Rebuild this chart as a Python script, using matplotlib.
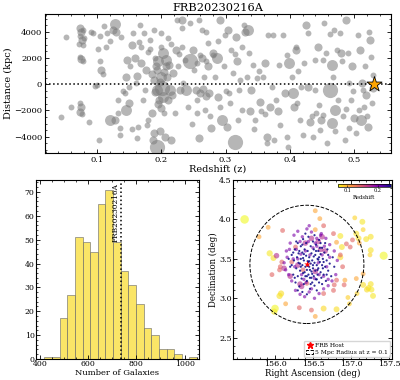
import numpy as np
import matplotlib
matplotlib.use("Agg")
import matplotlib.pyplot as plt
from matplotlib.patches import Circle
from matplotlib.lines import Line2D
from matplotlib.ticker import AutoMinorLocator

plt.rcParams.update({
    "font.family": "serif",
    "font.serif": ["DejaVu Serif"],
    "xtick.direction": "in", "ytick.direction": "in",
    "xtick.top": True, "ytick.right": True,
    "xtick.minor.visible": True, "ytick.minor.visible": True,
    "xtick.major.size": 3, "ytick.major.size": 3,
    "xtick.minor.size": 1.5, "ytick.minor.size": 1.5,
    "xtick.major.width": 0.6, "ytick.major.width": 0.6,
    "xtick.minor.width": 0.5, "ytick.minor.width": 0.5,
    "axes.linewidth": 0.8,
})

# ---------------- top panel data (redshift, transverse distance kpc) ----------------
z_small = [0.044,0.051,0.059,0.073,0.072,0.078,0.073,0.078,0.074,0.076,0.078,0.080,0.087,0.090,0.094,0.100,0.097,0.103,0.105,0.102,
           0.111,0.114,0.115,0.105,0.110,0.132,0.132,0.136,0.138,0.141,0.143,0.149,0.152,0.156,0.161,0.163,0.162,0.167,0.169,0.171,
           0.173,0.175,0.180,0.180,0.182,0.188,0.190,0.199,0.199,0.204,0.211,0.221,0.224,0.226,0.233,0.232,0.234,0.237,0.245,0.251,
           0.255,0.256,0.259,0.263,0.266,0.268,0.270,0.272,0.276,0.283,0.292,0.297,0.299,0.306,0.307,0.309,0.312,0.320,0.321,0.322,
           0.325,0.326,0.329,0.333,0.337,0.343,0.346,0.349,0.356,0.359,0.365,0.366,0.372,0.374,0.375,0.379,0.384,0.389,0.395,0.398,
           0.403,0.409,0.413,0.416,0.418,0.421,0.422,0.428,0.434,0.436,0.439,0.440,0.441,0.447,0.451,0.452,0.454,0.457,0.458,0.467,
           0.469,0.474,0.475,0.478,0.482,0.483,0.486,0.491,0.492,0.493,0.496,0.503,0.506,0.514,0.515,0.517,0.524,0.526,0.528,0.529,
           0.260,0.270,0.280,0.255,0.120,0.135,0.155,0.165,0.178,0.183,0.215,0.228,0.242,0.248,0.288,0.300,0.315,0.345,0.352,0.362,
           0.385,0.395,0.412,0.445,0.462,0.470,0.488,0.498,0.508,0.520]
d_small = [-2500,3600,-1750,3650,3100,3000,2100,1800,-1400,-2300,4100,3500,-2900,3950,3900,-50,-100,-4250,3650,2700,
           4450,2870,3890,1730,790,-1190,-2200,-3300,3630,-530,-700,-180,1350,3890,80,-3230,-4110,4520,2870,-1190,
           3890,-430,2490,-2720,3380,4140,1980,2870,3890,-2200,3500,-2200,4900,1350,4270,2870,80,1850,4650,1090,
           -1190,-2200,4900,4140,580,-1960,4010,3120,-2460,580,-1700,1350,3760,-690,-1450,2620,840,-2720,-430,330,
           2870,-1960,4520,580,2360,1470,-2720,460,-2080,580,-4500,3760,-180,3760,-4240,-1190,1470,3760,-3990,-4750,
           580,2870,970,-2720,-180,-3860,1600,3890,-2460,-3990,1850,-430,-2200,-3480,1850,-2330,4650,2360,-4500,580,
           4140,2620,-1190,3890,1730,-2460,-4240,2360,80,-3350,-1190,-3730,3760,-430,-1700,1350,4010,2110,-1450,710,
           2200,1800,2200,1600,3300,-3900,-3400,3200,-3100,2700,3050,2300,-1700,-3000,3300,-500,2300,-3400,1000,-2300,
           -3100,2200,-1400,-1600,3800,-3600,-1900,-500,-2000,-2400]

z_med = [0.074,0.075,0.076,0.075,0.075,0.074,0.106,0.125,0.130,0.128,0.146,0.145,0.150,0.154,0.159,0.162,0.169,0.177,0.185,0.187,
         0.188,0.189,0.194,0.197,0.198,0.206,0.207,0.209,0.215,0.219,0.223,0.229,0.232,0.250,0.254,0.259,0.264,0.273,0.275,0.277,
         0.281,0.289,0.291,0.302,0.304,0.317,0.318,0.330,0.338,0.340,0.353,0.361,0.364,0.369,0.382,0.392,0.407,0.410,0.426,0.429,
         0.431,0.444,0.449,0.480,0.488,0.497,0.500,0.509,0.513,0.519,0.522,0.525,0.530,
         0.185,0.190,0.195,0.198,0.205,0.210,0.212,0.216,0.192,0.200,0.260,0.265,0.270]
d_med = [4250,3950,3350,1900,-1700,-2100,1090,4140,4000,-2720,1850,580,-1450,3000,2030,640,1600,1090,-2200,-4240,
         -3730,330,1090,-1190,-3600,-3990,1350,580,-4240,840,2620,-430,4900,2620,-430,-4110,1980,1350,-690,-3350,
         2360,-940,4900,-3230,4140,3630,1730,4010,-2080,-430,-1320,1600,-3990,-1700,-2080,-690,-1700,2620,4520,-180,
         -2850,2870,-2720,2360,4900,1350,-2590,2620,80,-810,-3230,3380,-300,
         800,-600,-1500,200,900,-1200,1500,-800,1400,-1800,-700,-400,-900]

z_large = [0.120,0.128,0.145,0.193,0.195,0.200,0.202,0.203,0.208,0.213,0.239,0.286,0.295,0.335,0.399,0.405,0.465,0.466,0.471,0.511]
d_large = [-2720,4600,-1960,-430,1730,580,2360,-940,1850,-430,-430,1980,-2720,4140,1600,-690,1470,-2970,-1960,-2720]

z_xl = [0.193,0.201,0.245,0.314,0.462]
d_xl = [-4750,-300,1730,-4370,-430]

frb_z = 0.531
frb_d = 0

# ---------------- histogram data ----------------
bin_start = 418
bin_width = 31.7
hist_counts = [1, 1, 17, 27, 51, 49, 45, 65, 71, 49, 37, 31, 23, 13, 10, 4, 4, 2, 0, 1]
frb_count = 734

# ---------------- sky panel data (RA, Dec, redshift, size) ----------------
ra_navy = [156.20,156.22,156.24,156.25,156.26,156.27,156.28,156.29,156.30,156.30,156.31,156.32,156.32,156.33,156.34,156.34,156.35,156.36,156.36,156.37,
           156.37,156.38,156.38,156.39,156.40,156.40,156.41,156.41,156.42,156.42,156.43,156.43,156.44,156.44,156.45,156.45,156.46,156.46,156.47,156.47,
           156.48,156.48,156.49,156.49,156.50,156.50,156.51,156.51,156.52,156.52,156.53,156.53,156.54,156.54,156.55,156.56,156.56,156.57,156.57,156.58,
           156.58,156.59,156.60,156.60,156.61,156.62,156.62,156.63,156.64,156.65,156.66,156.67,156.68,156.69,156.70,156.72,156.74,156.76,156.36,156.42,
           156.55,156.28,156.22,156.18,156.40,156.52,156.60,156.66,156.70,156.78,156.30,156.46,156.44,156.50,156.38,156.56,156.34,156.58,156.42,156.48,
           156.26,156.64,156.24,156.68,156.36,156.54,156.47,156.62,156.33,156.39,156.45,156.51,156.57,156.63,156.43,156.49,156.37,156.55,156.31,156.59]
dec_navy = [3.40,3.55,3.30,3.48,3.62,3.20,3.38,3.52,3.70,3.28,3.45,3.60,3.15,3.35,3.50,3.66,3.25,3.42,3.58,3.75,
            3.32,3.48,3.18,3.62,3.40,3.28,3.54,3.70,3.36,3.22,3.47,3.60,3.30,3.78,3.40,3.52,3.12,3.26,3.66,3.44,
            3.34,3.57,3.20,3.48,3.72,3.38,3.28,3.62,3.45,3.16,3.55,3.35,3.68,3.24,3.42,3.50,3.30,3.60,3.38,3.20,
            3.74,3.46,3.33,3.56,3.26,3.64,3.42,3.50,3.30,3.58,3.40,3.22,3.48,3.62,3.35,3.44,3.28,3.52,3.08,3.05,
            3.10,3.72,3.42,3.50,3.82,3.80,3.70,3.70,3.55,3.40,3.10,3.36,3.46,3.42,3.56,3.36,3.40,3.52,3.28,3.26,
            3.26,3.46,3.58,3.30,3.68,3.60,3.18,3.18,3.44,3.33,3.47,3.53,3.49,3.38,3.41,3.31,3.51,3.24,3.57,3.64]

ra_purple = [156.15,156.18,156.20,156.22,156.25,156.27,156.30,156.33,156.36,156.39,156.42,156.45,156.48,156.52,156.55,156.58,156.61,156.64,156.67,156.70,
             156.72,156.75,156.78,156.80,156.82,156.12,156.14,156.16,156.30,156.35,156.40,156.46,156.52,156.57,156.62,156.68,156.55,156.38,156.28,156.44,
             156.60,156.65,156.50,156.33,156.24,156.70,156.58,156.48,156.26,156.34,156.41,156.53,156.64,156.72,156.19,156.45]
dec_purple = [3.60,3.30,3.70,3.22,3.80,3.10,3.85,3.05,3.78,3.02,3.88,3.08,3.84,3.00,3.76,3.06,3.82,3.12,3.76,3.16,
              3.68,3.22,3.60,3.30,3.48,3.45,3.36,3.52,3.50,3.30,3.60,3.55,3.25,3.45,3.55,3.40,3.66,3.24,3.62,3.72,
              3.80,3.66,3.64,3.72,3.50,3.24,3.30,3.12,3.40,3.56,3.20,3.70,3.28,3.52,3.62,3.92]

ra_magenta = [156.02,156.35,156.33,156.53,156.48,156.57,156.40,156.60,156.12,156.20,156.62,156.30,156.66]
dec_magenta = [3.54,3.15,3.18,3.34,3.76,3.72,3.70,3.62,3.38,3.28,3.78,3.42,3.60]

ra_salmon = [156.07,156.06,156.09,156.27,156.32,156.81,156.89,156.91,156.94,156.99,157.02,156.64,156.77,156.64,156.37,156.42,156.10,156.78,156.77,156.48,
             155.96,156.22,156.86]
dec_salmon = [3.40,3.36,3.46,3.65,2.88,3.23,3.40,3.17,3.69,3.65,3.74,3.92,3.82,3.06,3.36,3.19,3.86,3.17,3.10,2.85,
              3.30,3.46,3.55]

ra_orange = [155.91,155.79,156.14,156.53,156.53,156.81,156.92,156.53,157.11,157.16,156.59,157.07]
dec_orange = [3.90,3.78,2.93,4.11,3.87,3.71,3.23,2.77,3.70,3.31,4.01,3.25]

ra_yellow = [155.60,155.93,155.98,156.08,156.06,156.00,155.99,156.64,156.86,156.88,156.81,156.86,157.05,157.07,157.10,157.15,157.16,157.20,157.26,157.26,
             157.25,157.43,157.16,157.23,157.26,157.21,157.27,157.29,156.98,157.08,156.96]
dec_yellow = [4.00,3.57,3.51,3.06,3.03,2.87,2.83,2.87,3.52,3.65,2.86,3.79,4.02,3.82,3.76,3.97,3.87,3.75,3.78,3.61,
              3.55,3.54,3.17,3.13,3.18,3.11,3.11,3.03,2.93,3.06,3.01]
z_yellow = [0.068,0.075,0.078,0.080,0.078,0.070,0.074,0.082,0.080,0.078,0.080,0.076,0.084,0.078,0.080,0.076,0.084,0.078,0.078,0.078,
            0.084,0.070,0.080,0.078,0.078,0.080,0.076,0.076,0.086,0.084,0.086]
s_yellow = [38,20,18,20,20,30,20,18,18,18,18,18,12,18,18,18,12,18,18,18,12,34,18,18,18,18,18,18,12,12,12]

z_navy, z_purple, z_magenta, z_salmon, z_orange = 0.25, 0.20, 0.172, 0.138, 0.104
frb_ra, frb_dec = 156.42, 3.43
circle_radius_deg = 0.75

# ---------------- figure ----------------
fig = plt.figure(figsize=(4.0, 3.8), dpi=100)
ax1 = fig.add_axes([0.1125, 0.5966, 0.864, 0.3666])
ax2 = fig.add_axes([0.09, 0.0553, 0.4075, 0.471])
ax3 = fig.add_axes([0.583, 0.0553, 0.397, 0.471])

gcol = "#7a7a7a"
for zz, dd, ss in [(z_small, d_small, 18), (z_med, d_med, 34), (z_large, d_large, 62), (z_xl, d_xl, 120)]:
    ax1.scatter(zz, dd, s=ss, color=gcol, alpha=0.55, linewidths=0)
ax1.axhline(0, color="k", ls=":", lw=1.1)
ax1.scatter([frb_z], [frb_d], marker="*", s=130, color="orange", edgecolors="k", linewidths=0.6, zorder=5)
ax1.set_xlim(0.019, 0.557)
ax1.set_ylim(-5265, 5350)
ax1.set_xticks([0.1, 0.2, 0.3, 0.4, 0.5])
ax1.set_yticks([-4000, -2000, 0, 2000, 4000])
ax1.xaxis.set_minor_locator(AutoMinorLocator(5))
ax1.yaxis.set_minor_locator(AutoMinorLocator(4))
ax1.tick_params(labelsize=6, pad=2)
ax1.set_xlabel("Redshift (z)", fontsize=7, labelpad=0.5)
ax1.set_ylabel("Distance (kpc)", fontsize=7, labelpad=0.5)
ax1.set_title("FRB20230216A", fontsize=8.2, pad=2.5)

# histogram
edges = bin_start + bin_width * np.arange(len(hist_counts) + 1)
centers = 0.5 * (edges[:-1] + edges[1:])
ax2.hist(centers, bins=edges, weights=hist_counts, color="#f9dc2c", alpha=0.72, edgecolor="#6e6e6e", linewidth=0.6)
ax2.axvline(frb_count, color="k", ls=":", lw=1.1)
ax2.text(frb_count - 3, 73.8, "FRB20230216A", rotation=90, ha="right", va="top", fontsize=5.3)
ax2.set_xlim(383, 1060)
ax2.set_ylim(0, 75)
ax2.set_xticks([400, 600, 800, 1000])
ax2.set_yticks(range(0, 71, 10))
ax2.xaxis.set_minor_locator(AutoMinorLocator(4))
ax2.yaxis.set_minor_locator(AutoMinorLocator(5))
ax2.tick_params(labelsize=5.6, pad=1)
ax2.set_xlabel("Number of Galaxies", fontsize=6, labelpad=0.3)

# sky plot
cmap = plt.get_cmap("plasma_r")
vmin, vmax = 0.068, 0.243
kw = dict(cmap=cmap, vmin=vmin, vmax=vmax, alpha=0.6, linewidths=0)
ax3.scatter(ra_yellow, dec_yellow, c=z_yellow, s=s_yellow, **kw)
ax3.scatter(ra_orange, dec_orange, c=[z_orange] * len(ra_orange), s=12, **kw)
ax3.scatter(ra_salmon, dec_salmon, c=[z_salmon] * len(ra_salmon), s=12, **kw)
ax3.scatter(ra_magenta, dec_magenta, c=[z_magenta] * len(ra_magenta), s=16, **kw)
ax3.scatter(ra_purple, dec_purple, c=[z_purple] * len(ra_purple), s=6, **kw)
ax3.scatter(ra_navy, dec_navy, c=[z_navy] * len(ra_navy), s=2.5,
            cmap=cmap, vmin=vmin, vmax=vmax, alpha=0.85, linewidths=0)
ax3.scatter([frb_ra], [frb_dec], marker="*", s=24, color="red", zorder=5, linewidths=0)
circ = Circle((frb_ra, frb_dec), circle_radius_deg, fill=False, ls="--", ec="k", lw=0.7)
ax3.add_patch(circ)
ax3.set_xlim(155.45, 157.54)
ax3.set_ylim(2.23, 4.5)
ax3.set_xticks([156.0, 156.5, 157.0, 157.5])
ax3.set_yticks([2.5, 3.0, 3.5, 4.0, 4.5])
ax3.xaxis.set_minor_locator(AutoMinorLocator(5))
ax3.yaxis.set_minor_locator(AutoMinorLocator(5))
ax3.tick_params(labelsize=5.8, pad=1)
ax3.set_xlabel("Right Ascension (deg)", fontsize=6.2, labelpad=0.3)
ax3.set_ylabel("Declination (deg)", fontsize=6.2, labelpad=0.5)

handles = [Line2D([], [], marker="*", color="red", ls="none", markersize=5),
           Circle((0, 0), 1, fill=False, ls="--", ec="k", lw=0.7)]
ax3.legend(handles, ["FRB Host", "5 Mpc Radius at z = 0.1"], loc="lower right",
           fontsize=4.3, handlelength=1.2, borderpad=0.35, labelspacing=0.25, handletextpad=0.3, borderaxespad=0.3)

cax = ax3.inset_axes([0.658, 0.962, 0.334, 0.017])
cb = fig.colorbar(plt.cm.ScalarMappable(norm=plt.Normalize(vmin, vmax), cmap=cmap), cax=cax, orientation="horizontal", ticks=[0.1, 0.2])
cb.outline.set_linewidth(0.5)
cax.tick_params(labelsize=3.5, length=1.2, width=0.4, pad=1, which="major")
cax.tick_params(which="minor", length=0)
cax.xaxis.set_ticks_position("bottom")
cax.set_xlabel("Redshift", fontsize=3.8, labelpad=1)

fig.savefig("out.png", dpi=100)
